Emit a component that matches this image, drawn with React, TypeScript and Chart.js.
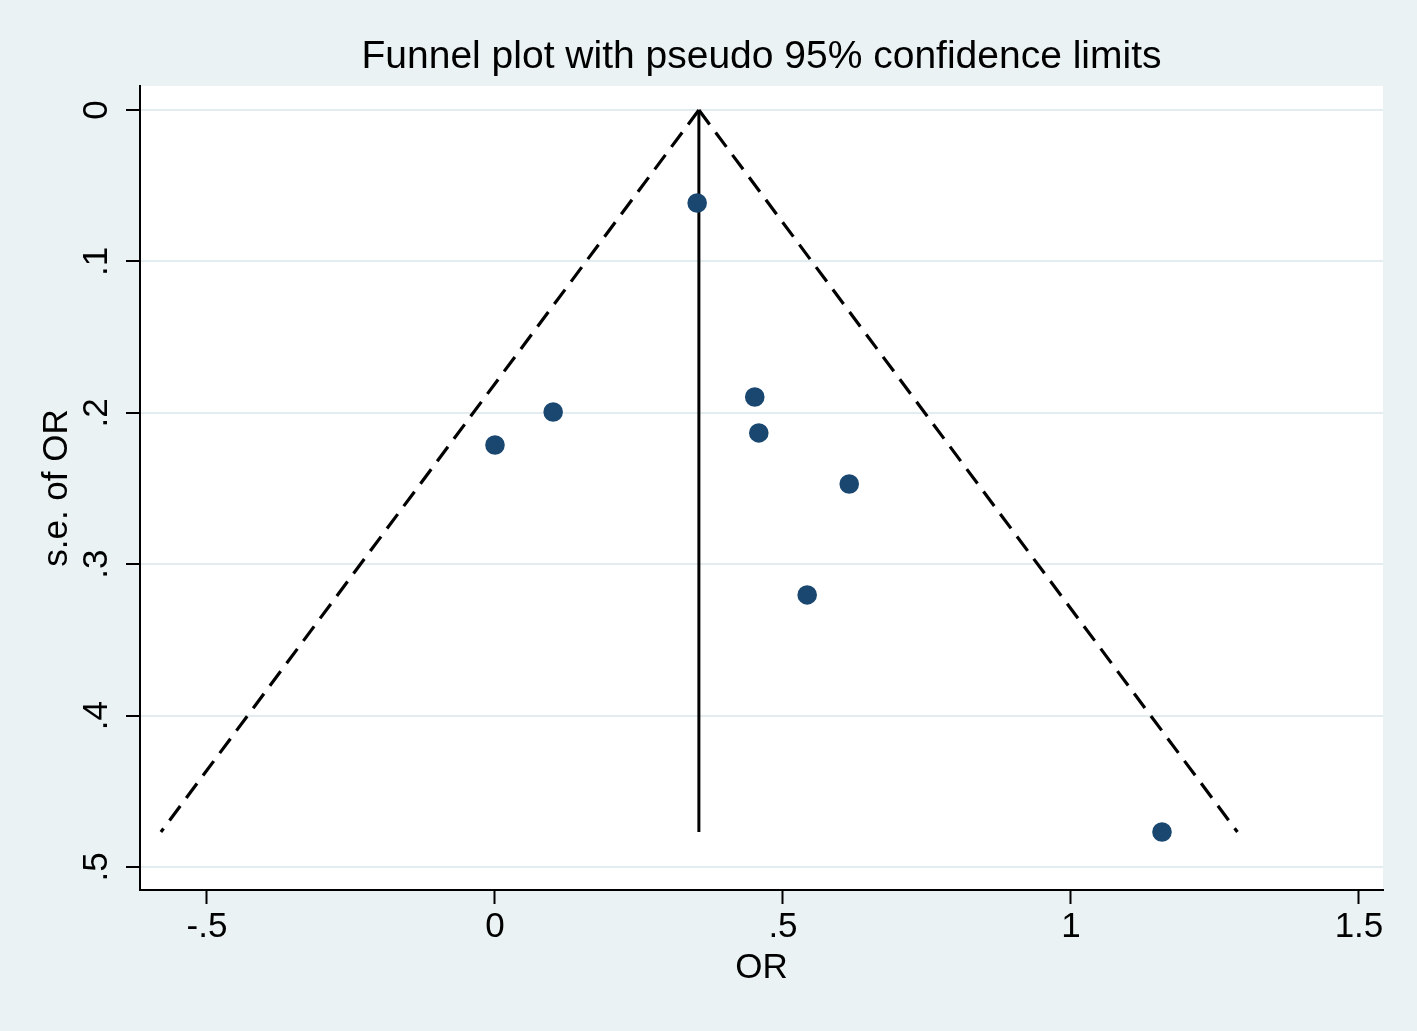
import React, { useEffect, useRef } from 'react';
import { Chart, registerables } from 'chart.js';

Chart.register(...registerables);

// ---- data ----
const studyOR = [0.351, 0.101, 0.0, 0.451, 0.458, 0.615, 0.542, 1.158];
const studySE = [0.0614, 0.1995, 0.2213, 0.1896, 0.2133, 0.247, 0.3203, 0.4769];
const pooledOR = 0.354;
const seZero = 0;
const seMax = 0.4769;
const lowerLimitAtMax = -0.58;
const upperLimitAtMax = 1.289;
const xTickValues = [-0.5, 0, 0.5, 1, 1.5];
const xTickLabels = ['-.5', '0', '.5', '1', '1.5'];
const yTickValues = [0, 0.1, 0.2, 0.3, 0.4, 0.5];
const yTickLabels = ['0', '.1', '.2', '.3', '.4', '.5'];
const titleText = 'Funnel plot with pseudo 95% confidence limits';
const xTitle = 'OR';
const yTitle = 's.e. of OR';

const FONT = "'Liberation Sans', Arial, Helvetica, sans-serif";
const BG = '#EAF2F3';
const GRID = '#E3ECEE';
const NAVY = '#1A476F';

const stataPlugin = {
  id: 'stataLook',
  beforeDraw(chart: any) {
    const { ctx, chartArea, width, height } = chart;
    ctx.save();
    ctx.fillStyle = BG;
    ctx.fillRect(0, 0, width, height);
    ctx.fillStyle = '#ffffff';
    ctx.fillRect(chartArea.left, chartArea.top, chartArea.right - chartArea.left, chartArea.bottom - chartArea.top);
    ctx.restore();
  },
  afterDraw(chart: any) {
    const { ctx } = chart;
    const ys = chart.scales.y;
    ctx.save();
    ctx.fillStyle = '#000';
    ctx.font = `35px ${FONT}`;
    ctx.textAlign = 'center';
    ctx.textBaseline = 'middle';
    yTickValues.forEach((v, i) => {
      const py = ys.getPixelForValue(v);
      ctx.save();
      ctx.translate(97, py);
      ctx.rotate(-Math.PI / 2);
      ctx.fillText(yTickLabels[i], 0, 0);
      ctx.restore();
    });
    ctx.restore();
  },
};

export default function App() {
  const ref = useRef<HTMLCanvasElement | null>(null);

  useEffect(() => {
    document.body.style.margin = '0';
    document.body.style.background = BG;
    const canvas = ref.current;
    if (!canvas) return;

    const points = studyOR.map((x, i) => ({ x, y: studySE[i] }));

    const chart = new Chart(canvas, {
      type: 'scatter',
      data: {
        datasets: [
          {
            label: 'Studies',
            data: points,
            pointRadius: 9.8,
            pointHoverRadius: 9.8,
            backgroundColor: NAVY,
            borderWidth: 0,
            showLine: false,
          },
          {
            label: 'Pooled',
            data: [
              { x: pooledOR, y: seZero },
              { x: pooledOR, y: seMax },
            ],
            showLine: true,
            borderColor: '#000',
            borderWidth: 3,
            pointRadius: 0,
          },
          {
            label: 'Lower limit',
            data: [
              { x: pooledOR, y: seZero },
              { x: lowerLimitAtMax, y: seMax },
            ],
            showLine: true,
            borderColor: '#000',
            borderWidth: 3.2,
            borderDash: [18, 10],
            pointRadius: 0,
          },
          {
            label: 'Upper limit',
            data: [
              { x: pooledOR, y: seZero },
              { x: upperLimitAtMax, y: seMax },
            ],
            showLine: true,
            borderColor: '#000',
            borderWidth: 3.2,
            borderDash: [18, 10],
            pointRadius: 0,
          },
        ],
      },
      options: {
        animation: false,
        responsive: false,
        devicePixelRatio: 1,
        layout: { padding: { left: 0, right: 34, top: 0, bottom: 0 } },
        plugins: {
          legend: { display: false },
          tooltip: { enabled: false },
          title: {
            display: true,
            fullSize: false,
            text: titleText,
            color: '#000',
            font: { family: FONT, size: 39, weight: 'normal', lineHeight: 1.2 },
            padding: { top: 33.6, bottom: 5.6 },
          },
        },
        scales: {
          x: {
            type: 'linear',
            position: 'bottom',
            min: -0.6163,
            max: 1.5417,
            afterBuildTicks: (s: any) => {
              s.ticks = xTickValues.map((v) => ({ value: v }));
            },
            afterFit: (s: any) => {
              s.height = 141;
            },
            ticks: {
              color: '#000',
              font: { family: FONT, size: 35 },
              padding: 2,
              autoSkip: false,
              maxRotation: 0,
              minRotation: 0,
              callback: (v: any) => {
                const i = xTickValues.indexOf(Number(v));
                return i >= 0 ? xTickLabels[i] : '';
              },
            },
            grid: {
              display: true,
              drawOnChartArea: false,
              drawTicks: true,
              tickLength: 14,
              tickColor: '#000',
              tickWidth: 2,
            },
            border: { display: true, color: '#000', width: 2 },
            title: {
              display: true,
              text: xTitle,
              color: '#000',
              font: { family: FONT, size: 35, lineHeight: 1.2 },
              padding: { top: 0, bottom: 42 },
            },
          },
          y: {
            type: 'linear',
            position: 'left',
            reverse: true,
            min: -0.01585,
            max: 0.5152,
            afterBuildTicks: (s: any) => {
              s.ticks = yTickValues.map((v) => ({ value: v }));
            },
            afterFit: (s: any) => {
              s.width = 140;
            },
            ticks: { display: false },
            grid: {
              display: true,
              color: GRID,
              lineWidth: 2,
              drawOnChartArea: true,
              drawTicks: true,
              tickLength: 14,
              tickColor: '#000',
              tickWidth: 2,
            },
            border: { display: true, color: '#000', width: 2 },
            title: {
              display: true,
              text: yTitle,
              color: '#000',
              font: { family: FONT, size: 35, lineHeight: 1.2 },
              padding: { top: 36.7, bottom: 0 },
            },
          },
        },
      } as any,
      plugins: [stataPlugin],
    });

    return () => {
      chart.destroy();
    };
  }, []);

  return (
    <div style={{ width: 1417, height: 1031, background: BG }}>
      <canvas ref={ref} width={1417} height={1031} style={{ display: 'block' }} />
    </div>
  );
}
